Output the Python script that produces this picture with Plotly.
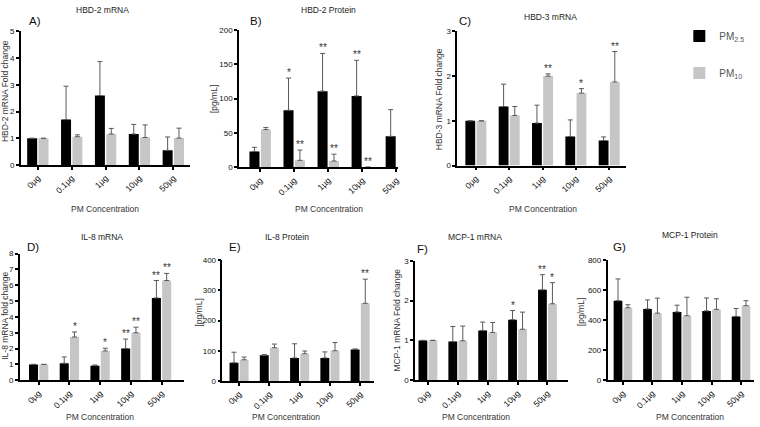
import plotly.graph_objects as go

W, H = 760, 427

categories = ["0µg", "0.1µg", "1µg", "10µg", "50µg"]
series_names = ["PM<sub>2.5</sub>", "PM<sub>10</sub>"]

# A) HBD-2 mRNA
hbd2_mrna_pm25 = [1.0, 1.70, 2.60, 1.16, 0.55]
hbd2_mrna_pm25_err = [None, 1.25, 1.27, 0.36, 0.50]
hbd2_mrna_pm25_sig = ["", "", "", "", ""]
hbd2_mrna_pm10 = [1.0, 1.06, 1.16, 1.03, 1.01]
hbd2_mrna_pm10_err = [None, 0.07, 0.21, 0.47, 0.37]
hbd2_mrna_pm10_sig = ["", "", "", "", ""]

# B) HBD-2 Protein
hbd2_prot_pm25 = [23, 83, 111, 104, 45]
hbd2_prot_pm25_err = [6, 47, 55, 52, 39]
hbd2_prot_pm25_sig = ["", "*", "**", "**", ""]
hbd2_prot_pm10 = [55, 10, 9, 0, None]
hbd2_prot_pm10_err = [3, 15, 10, None, None]
hbd2_prot_pm10_sig = ["", "**", "**", "**", ""]

# C) HBD-3 mRNA
hbd3_mrna_pm25 = [1.0, 1.32, 0.95, 0.65, 0.56]
hbd3_mrna_pm25_err = [None, 0.50, 0.40, 0.37, 0.08]
hbd3_mrna_pm25_sig = ["", "", "", "", ""]
hbd3_mrna_pm10 = [1.0, 1.12, 2.00, 1.62, 1.87]
hbd3_mrna_pm10_err = [None, 0.20, 0.05, 0.10, 0.68]
hbd3_mrna_pm10_sig = ["", "", "**", "*", "**"]

# D) IL-8 mRNA
il8_mrna_pm25 = [1.0, 1.07, 0.92, 2.00, 5.20]
il8_mrna_pm25_err = [None, 0.40, 0.04, 0.60, 1.10]
il8_mrna_pm25_sig = ["", "", "", "**", "**"]
il8_mrna_pm10 = [1.0, 2.73, 1.85, 3.00, 6.30]
il8_mrna_pm10_err = [None, 0.32, 0.17, 0.35, 0.45]
il8_mrna_pm10_sig = ["", "*", "*", "**", "**"]

# E) IL-8 Protein
il8_prot_pm25 = [60, 85, 76, 76, 104]
il8_prot_pm25_err = [35, 2, 47, 20, 2]
il8_prot_pm25_sig = ["", "", "", "", ""]
il8_prot_pm10 = [70, 110, 90, 100, 257]
il8_prot_pm10_err = [9, 12, 9, 27, 80]
il8_prot_pm10_sig = ["", "", "", "", "**"]

# F) MCP-1 mRNA
mcp1_mrna_pm25 = [1.0, 0.97, 1.25, 1.52, 2.27]
mcp1_mrna_pm25_err = [None, 0.38, 0.21, 0.23, 0.38]
mcp1_mrna_pm25_sig = ["", "", "", "*", "**"]
mcp1_mrna_pm10 = [1.0, 0.99, 1.20, 1.28, 1.92]
mcp1_mrna_pm10_err = [None, 0.37, 0.25, 0.43, 0.53]
mcp1_mrna_pm10_sig = ["", "", "", "", "*"]

# G) MCP-1 Protein
mcp1_prot_pm25 = [530, 475, 455, 462, 425]
mcp1_prot_pm25_err = [145, 60, 45, 86, 53]
mcp1_prot_pm25_sig = ["", "", "", "", ""]
mcp1_prot_pm10 = [483, 447, 430, 472, 497]
mcp1_prot_pm10_err = [20, 100, 123, 71, 33]
mcp1_prot_pm10_sig = ["", "", "", "", ""]

panels = [
    dict(letter="A)", title="HBD-2 mRNA", ytitle="HBD-2 mRNA Fold change",
         yrange=[0, 5], dtick=1,
         s25=(hbd2_mrna_pm25, hbd2_mrna_pm25_err, hbd2_mrna_pm25_sig),
         s10=(hbd2_mrna_pm10, hbd2_mrna_pm10_err, hbd2_mrna_pm10_sig)),
    dict(letter="B)", title="HBD-2 Protein", ytitle="[pg/mL]",
         yrange=[0, 200], dtick=50,
         s25=(hbd2_prot_pm25, hbd2_prot_pm25_err, hbd2_prot_pm25_sig),
         s10=(hbd2_prot_pm10, hbd2_prot_pm10_err, hbd2_prot_pm10_sig)),
    dict(letter="C)", title="HBD-3 mRNA", ytitle="HBD-3 mRNA Fold change",
         yrange=[0, 3], dtick=1,
         s25=(hbd3_mrna_pm25, hbd3_mrna_pm25_err, hbd3_mrna_pm25_sig),
         s10=(hbd3_mrna_pm10, hbd3_mrna_pm10_err, hbd3_mrna_pm10_sig)),
    dict(letter="D)", title="IL-8 mRNA", ytitle="IL-8 mRNA fold change",
         yrange=[0, 8], dtick=1,
         s25=(il8_mrna_pm25, il8_mrna_pm25_err, il8_mrna_pm25_sig),
         s10=(il8_mrna_pm10, il8_mrna_pm10_err, il8_mrna_pm10_sig)),
    dict(letter="E)", title="IL-8 Protein", ytitle="[pg/mL]",
         yrange=[0, 400], dtick=100,
         s25=(il8_prot_pm25, il8_prot_pm25_err, il8_prot_pm25_sig),
         s10=(il8_prot_pm10, il8_prot_pm10_err, il8_prot_pm10_sig)),
    dict(letter="F)", title="MCP-1 mRNA", ytitle="MCP-1 mRNA Fold change",
         yrange=[0, 3], dtick=1,
         s25=(mcp1_mrna_pm25, mcp1_mrna_pm25_err, mcp1_mrna_pm25_sig),
         s10=(mcp1_mrna_pm10, mcp1_mrna_pm10_err, mcp1_mrna_pm10_sig)),
    dict(letter="G)", title="MCP-1 Protein", ytitle="[pg/mL]",
         yrange=[0, 800], dtick=200,
         s25=(mcp1_prot_pm25, mcp1_prot_pm25_err, mcp1_prot_pm25_sig),
         s10=(mcp1_prot_pm10, mcp1_prot_pm10_err, mcp1_prot_pm10_sig)),
]

# layout (pixels): plot area x0,x1,ytop,ybottom ; x range ; title pos ; letter pos ; ytitle pos ; xtitle pos
geom = [
    dict(px=(21, 191), py=(28, 164.5), xr=(-0.5, 4.5), tpos=(103, 6), lpos=(35, 17), ypos=(5, 89), xpos=(105, 209)),
    dict(px=(240, 400), py=(26.7, 166.7), xr=(-0.62, 4.06), tpos=(330, 6), lpos=(257, 17), ypos=(215, 97), xpos=(330, 209)),
    dict(px=(459, 628), py=(28, 165), xr=(-0.56, 4.49), tpos=(553, 13), lpos=(467, 17), ypos=(441, 97), xpos=(545, 209)),
    dict(px=(20, 185), py=(255, 384.3), xr=(-0.61, 4.74), tpos=(102, 238), lpos=(33, 248), ypos=(5.5, 318), xpos=(100, 422)),
    dict(px=(223.3, 375), py=(261.7, 385), xr=(-0.55, 4.44), tpos=(288, 238), lpos=(236, 248), ypos=(200, 315), xpos=(287, 422)),
    dict(px=(416.7, 570), py=(262.3, 384.3), xr=(-0.43, 4.68), tpos=(477, 238), lpos=(424, 250), ypos=(399, 323), xpos=(478, 422)),
    dict(px=(610, 757), py=(261.7, 384.3), xr=(-0.52, 4.44), tpos=(693, 236), lpos=(622, 248), ypos=(584, 315), xpos=(693, 422)),
]

BARGAP = 0.33
BARGROUPGAP = 0.12
slot = (1 - BARGAP) / 2
colors = ["#000000", "#c6c6c6"]
FONT = "Liberation Sans, Arial, sans-serif"

fig = go.Figure()
annotations = []
xs = list(range(len(categories)))

def px2x(p):
    return p / W

def py2y(p):
    return 1 - p / H

for i, (pan, g) in enumerate(zip(panels, geom)):
    n = i + 1
    xa = "x" if n == 1 else f"x{n}"
    ya = "y" if n == 1 else f"y{n}"
    for j, key in enumerate(["s25", "s10"]):
        vals, errs, sigs = pan[key]
        fig.add_trace(go.Bar(
            x=xs, y=vals, name=series_names[j],
            marker=dict(color=colors[j], line=dict(width=0)),
            error_y=dict(type="data", array=errs, arrayminus=[0] * len(errs), symmetric=False,
                         color="#5a5a5a", thickness=1, width=2.5),
            xaxis=xa, yaxis=ya, showlegend=(i == 0), legendgroup=key,
        ))
        off = -slot / 2 if j == 0 else slot / 2
        for k, s in enumerate(sigs):
            if s and vals[k] is not None:
                top = vals[k] + (errs[k] or 0)
                annotations.append(dict(
                    x=k + off, y=top, xref=xa, yref=ya, text=s, showarrow=False,
                    yanchor="bottom", yshift=-2, font=dict(size=10, color="#333", family=FONT)))
    axcommon = dict(showline=True, linecolor="black", linewidth=1.5, ticks="outside",
                    ticklen=3, tickwidth=1.5, tickcolor="black", showgrid=False, zeroline=False)
    fig.update_layout({
        ("xaxis" if n == 1 else f"xaxis{n}"): dict(
            domain=[px2x(g["px"][0]), px2x(g["px"][1])], anchor=ya, range=list(g["xr"]),
            tickvals=xs, ticktext=categories, tickangle=-45,
            tickfont=dict(size=8.5, color="#111", family=FONT), **axcommon),
        ("yaxis" if n == 1 else f"yaxis{n}"): dict(
            domain=[py2y(g["py"][1]), py2y(g["py"][0])], anchor=xa, range=pan["yrange"],
            dtick=pan["dtick"], tick0=0,
            tickfont=dict(size=8, color="#111", family=FONT), **axcommon),
    })
    annotations.append(dict(x=px2x(g["tpos"][0]), y=py2y(g["tpos"][1]), xref="paper", yref="paper",
                            text=pan["title"], showarrow=False, xanchor="center", yanchor="middle",
                            font=dict(size=8.5, color="#222", family=FONT)))
    annotations.append(dict(x=px2x(g["lpos"][0]), y=py2y(g["lpos"][1]), xref="paper", yref="paper",
                            text=pan["letter"], showarrow=False, xanchor="center", yanchor="middle",
                            font=dict(size=11.5, color="#111", family=FONT)))
    annotations.append(dict(x=px2x(g["ypos"][0]), y=py2y(g["ypos"][1]), xref="paper", yref="paper",
                            text=pan["ytitle"], showarrow=False, xanchor="center", yanchor="middle",
                            textangle=-90, font=dict(size=8.5, color="#333", family=FONT)))
    annotations.append(dict(x=px2x(g["xpos"][0]), y=py2y(g["xpos"][1]), xref="paper", yref="paper",
                            text="PM Concentration", showarrow=False, xanchor="center", yanchor="middle",
                            font=dict(size=8.5, color="#333", family=FONT)))

fig.update_layout(
    width=W, height=H, margin=dict(l=0, r=0, t=0, b=0),
    paper_bgcolor="white", plot_bgcolor="white",
    barmode="group", bargap=BARGAP, bargroupgap=BARGROUPGAP,
    annotations=annotations,
    legend=dict(x=px2x(682), y=py2y(18), xanchor="left", yanchor="top",
                font=dict(size=10, color="#555", family=FONT), tracegroupgap=18,
                bgcolor="rgba(0,0,0,0)", itemwidth=30),
    font=dict(family=FONT),
)

fig.write_html("out.html", config={"displayModeBar": False},
               post_script="document.body.style.margin='0';document.body.style.padding='0';")
